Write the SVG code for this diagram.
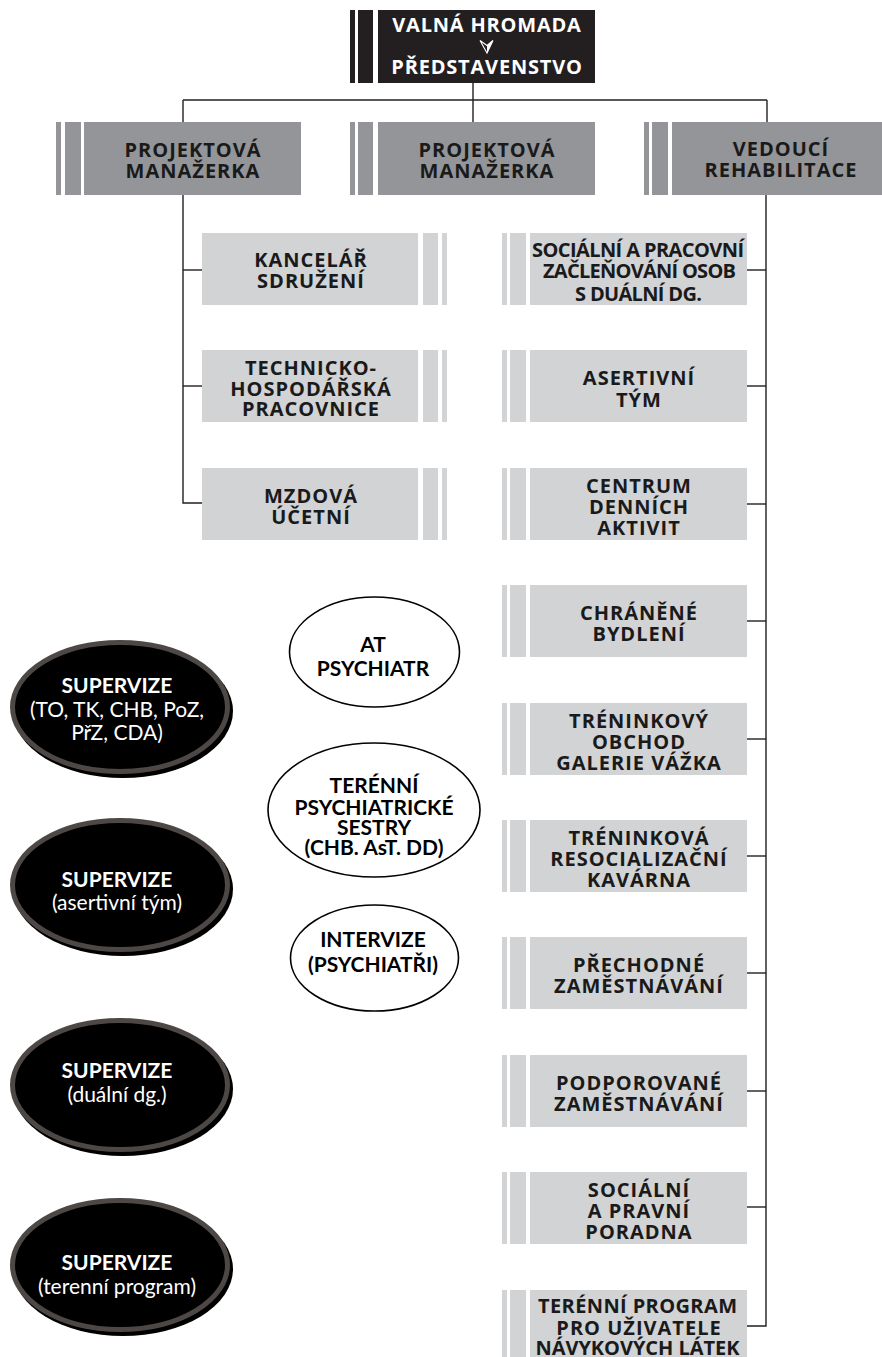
<svg xmlns="http://www.w3.org/2000/svg" width="882" height="1357" viewBox="0 0 882 1357">
<style>
.dk{fill:#939598}
.lt{fill:#d1d3d4}
.hd{fill:#231f20}
.bt{font-family:"Open Sans",sans-serif;font-weight:700;font-size:20px;letter-spacing:1px;fill:#1a1a1a;text-anchor:middle}
.wt{font-family:"Open Sans",sans-serif;font-weight:700;font-size:20px;letter-spacing:0.8px;fill:#ffffff;text-anchor:middle}
.ct{font-family:Lato,sans-serif;font-weight:700;font-size:21px;fill:#000;text-anchor:middle}
.sb{font-family:Lato,sans-serif;font-weight:700;font-size:21px;fill:#fff;text-anchor:middle}
.sr{font-family:Lato,sans-serif;font-weight:400;font-size:21px;fill:#fff;text-anchor:middle}
.cn{stroke:#231f20;stroke-width:1.4;fill:none}
.wo{fill:#fff;stroke:#000;stroke-width:1.6}
.ring{fill:#000;stroke:#4d4845;stroke-width:5}
</style>
<g id="connectors">
<line class="cn" x1="473" y1="83" x2="473" y2="122"/>
<line class="cn" x1="183" y1="100" x2="767" y2="100" stroke="#555"/>
<line class="cn" x1="183" y1="100" x2="183" y2="122"/>
<line class="cn" x1="767" y1="100" x2="767" y2="122"/>
<polyline class="cn" points="183,195 183,503 202,503"/>
<line class="cn" x1="183" y1="270" x2="202" y2="270"/>
<line class="cn" x1="183" y1="386" x2="202" y2="386"/>
<polyline class="cn" points="766,195 766,1326 747,1326"/>
<line class="cn" x1="747" y1="270" x2="766" y2="270"/>
<line class="cn" x1="747" y1="386" x2="766" y2="386"/>
<line class="cn" x1="747" y1="504" x2="766" y2="504"/>
<line class="cn" x1="747" y1="621" x2="766" y2="621"/>
<line class="cn" x1="747" y1="739" x2="766" y2="739"/>
<line class="cn" x1="747" y1="856" x2="766" y2="856"/>
<line class="cn" x1="747" y1="973" x2="766" y2="973"/>
<line class="cn" x1="747" y1="1091" x2="766" y2="1091"/>
<line class="cn" x1="747" y1="1207" x2="766" y2="1207"/>
</g>
<g id="valna-hromada">
<rect class="hd" x="350" y="10" width="5" height="73"/>
<rect class="hd" x="358" y="10" width="15" height="73"/>
<rect class="hd" x="378" y="10" width="217" height="73"/>
<text class="wt" x="487" y="32">VALNÁ HROMADA</text>
<path d="M480,40.5 L487,53 L493,40.5 L487,45.5 Z" fill="none" stroke="#fff" stroke-width="1.1"/>
<path d="M487,45.5 L493,40.5 L487,53 Z" fill="#fff"/>
<text class="wt" x="487" y="74">PŘEDSTAVENSTVO</text>
</g>
<g id="pm1">
<rect class="dk" x="56" y="122" width="5" height="73"/>
<rect class="dk" x="65" y="122" width="16" height="73"/>
<rect class="dk" x="84" y="122" width="217" height="73"/>
<text class="bt" x="193" y="157">PROJEKTOVÁ</text>
<text class="bt" x="193" y="178">MANAŽERKA</text>
</g>
<g id="pm2">
<rect class="dk" x="350" y="122" width="5" height="73"/>
<rect class="dk" x="358" y="122" width="15" height="73"/>
<rect class="dk" x="378" y="122" width="217" height="73"/>
<text class="bt" x="487" y="157">PROJEKTOVÁ</text>
<text class="bt" x="487" y="178">MANAŽERKA</text>
</g>
<g id="vedouci">
<rect class="dk" x="644" y="122" width="5" height="73"/>
<rect class="dk" x="652" y="122" width="16" height="73"/>
<rect class="dk" x="672" y="122" width="210" height="73"/>
<text class="bt" x="781" y="156">VEDOUCÍ</text>
<text class="bt" x="781" y="177">REHABILITACE</text>
</g>
<g id="kancelar">
<rect class="lt" x="202" y="233" width="216" height="72"/>
<rect class="lt" x="423" y="233" width="15" height="72"/>
<rect class="lt" x="442" y="233" width="5" height="72"/>
<text class="bt" x="311" y="267">KANCELÁŘ</text>
<text class="bt" x="311" y="288">SDRUŽENÍ</text>
</g>
<g id="technicko">
<rect class="lt" x="202" y="350" width="216" height="72"/>
<rect class="lt" x="423" y="350" width="15" height="72"/>
<rect class="lt" x="442" y="350" width="5" height="72"/>
<text class="bt" x="311" y="375">TECHNICKO-</text>
<text class="bt" x="311" y="395.5">HOSPODÁŘSKÁ</text>
<text class="bt" x="311" y="416">PRACOVNICE</text>
</g>
<g id="mzdova">
<rect class="lt" x="202" y="468" width="216" height="72"/>
<rect class="lt" x="423" y="468" width="15" height="72"/>
<rect class="lt" x="442" y="468" width="5" height="72"/>
<text class="bt" x="311" y="502.5">MZDOVÁ</text>
<text class="bt" x="311" y="523.5">ÚČETNÍ</text>
</g>
<g id="r1">
<rect class="lt" x="502" y="233" width="5" height="72"/>
<rect class="lt" x="510" y="233" width="16" height="72"/>
<rect class="lt" x="530" y="233" width="217" height="72"/>
<text class="bt" x="638.5" y="257" letter-spacing="0" textLength="213" lengthAdjust="spacing">SOCIÁLNÍ A PRACOVNÍ</text>
<text class="bt" x="640" y="278" letter-spacing="0" textLength="194" lengthAdjust="spacing">ZAČLEŇOVÁNÍ OSOB</text>
<text class="bt" x="639" y="300.5" letter-spacing="0" textLength="128" lengthAdjust="spacing">S DUÁLNÍ DG.</text>
</g>
<g id="r2">
<rect class="lt" x="502" y="350" width="5" height="72"/>
<rect class="lt" x="510" y="350" width="16" height="72"/>
<rect class="lt" x="530" y="350" width="217" height="72"/>
<text class="bt" x="639" y="385">ASERTIVNÍ</text>
<text class="bt" x="639" y="406.5">TÝM</text>
</g>
<g id="r3">
<rect class="lt" x="502" y="468" width="5" height="72"/>
<rect class="lt" x="510" y="468" width="16" height="72"/>
<rect class="lt" x="530" y="468" width="217" height="72"/>
<text class="bt" x="639" y="492.5">CENTRUM</text>
<text class="bt" x="639" y="513.5">DENNÍCH</text>
<text class="bt" x="639" y="534.5">AKTIVIT</text>
</g>
<g id="r4">
<rect class="lt" x="502" y="585" width="5" height="72"/>
<rect class="lt" x="510" y="585" width="16" height="72"/>
<rect class="lt" x="530" y="585" width="217" height="72"/>
<text class="bt" x="639" y="619.5">CHRÁNĚNÉ</text>
<text class="bt" x="639" y="641">BYDLENÍ</text>
</g>
<g id="r5">
<rect class="lt" x="502" y="703" width="5" height="72"/>
<rect class="lt" x="510" y="703" width="16" height="72"/>
<rect class="lt" x="530" y="703" width="217" height="72"/>
<text class="bt" x="639" y="727.5">TRÉNINKOVÝ</text>
<text class="bt" x="639" y="748.5">OBCHOD</text>
<text class="bt" x="639" y="769.5">GALERIE VÁŽKA</text>
</g>
<g id="r6">
<rect class="lt" x="502" y="820" width="5" height="72"/>
<rect class="lt" x="510" y="820" width="16" height="72"/>
<rect class="lt" x="530" y="820" width="217" height="72"/>
<text class="bt" x="639" y="844.5">TRÉNINKOVÁ</text>
<text class="bt" x="639" y="865.5">RESOCIALIZAČNÍ</text>
<text class="bt" x="639" y="886.5">KAVÁRNA</text>
</g>
<g id="r7">
<rect class="lt" x="502" y="937" width="5" height="72"/>
<rect class="lt" x="510" y="937" width="16" height="72"/>
<rect class="lt" x="530" y="937" width="217" height="72"/>
<text class="bt" x="639" y="971.5">PŘECHODNÉ</text>
<text class="bt" x="639" y="993">ZAMĚSTNÁVÁNÍ</text>
</g>
<g id="r8">
<rect class="lt" x="502" y="1055" width="5" height="72"/>
<rect class="lt" x="510" y="1055" width="16" height="72"/>
<rect class="lt" x="530" y="1055" width="217" height="72"/>
<text class="bt" x="639" y="1089.5">PODPOROVANÉ</text>
<text class="bt" x="639" y="1111">ZAMĚSTNÁVÁNÍ</text>
</g>
<g id="r9">
<rect class="lt" x="502" y="1172" width="5" height="72"/>
<rect class="lt" x="510" y="1172" width="16" height="72"/>
<rect class="lt" x="530" y="1172" width="217" height="72"/>
<text class="bt" x="639" y="1196.5">SOCIÁLNÍ</text>
<text class="bt" x="639" y="1217.5">A PRAVNÍ</text>
<text class="bt" x="639" y="1238.5">PORADNA</text>
</g>
<g id="r10">
<rect class="lt" x="502" y="1290" width="5" height="72"/>
<rect class="lt" x="510" y="1290" width="16" height="72"/>
<rect class="lt" x="530" y="1290" width="217" height="72"/>
<text class="bt" x="638" y="1313" letter-spacing="0" textLength="200" lengthAdjust="spacing">TERÉNNÍ PROGRAM</text>
<text class="bt" x="639" y="1334.5">PRO UŽIVATELE</text>
<text class="bt" x="638" y="1355" letter-spacing="0" textLength="205" lengthAdjust="spacing">NÁVYKOVÝCH LÁTEK</text>
</g>
<g id="at-psychiatr">
<ellipse class="wo" cx="374.5" cy="652" rx="85" ry="55"/>
<text class="ct" x="373" y="652" font-size="20">AT</text>
<text class="ct" x="373" y="676" font-size="20">PSYCHIATR</text>
</g>
<g id="terenni-sestry">
<ellipse class="wo" cx="374" cy="810" rx="106" ry="67"/>
<text class="ct" x="374" y="793">TERÉNNÍ</text>
<text class="ct" x="374" y="814.5">PSYCHIATRICKÉ</text>
<text class="ct" x="374" y="835">SESTRY</text>
<text class="ct" x="374" y="855">(CHB. AsT. DD)</text>
</g>
<g id="intervize">
<ellipse class="wo" cx="374.5" cy="958" rx="84" ry="53"/>
<text class="ct" x="373" y="947" font-size="20">INTERVIZE</text>
<text class="ct" x="373" y="972" font-size="20">(PSYCHIATŘI)</text>
</g>
<g id="supervize1">
<ellipse cx="123" cy="711" rx="110" ry="67" fill="#000"/>
<ellipse class="ring" cx="120" cy="707" rx="107.5" ry="64.5"/>
<text class="sb" x="117" y="693">SUPERVIZE</text>
<text class="sr" x="117" y="717">(TO, TK, CHB, PoZ,</text>
<text class="sr" x="117" y="740">PřZ, CDA)</text>
</g>
<g id="supervize2">
<ellipse cx="123" cy="889" rx="110" ry="67" fill="#000"/>
<ellipse class="ring" cx="120" cy="885" rx="107.5" ry="64.5"/>
<text class="sb" x="117" y="887">SUPERVIZE</text>
<text class="sr" x="117" y="910">(asertivní tým)</text>
</g>
<g id="supervize3">
<ellipse cx="123" cy="1089" rx="110" ry="67" fill="#000"/>
<ellipse class="ring" cx="120" cy="1085" rx="107.5" ry="64.5"/>
<text class="sb" x="117" y="1078">SUPERVIZE</text>
<text class="sr" x="117" y="1102">(duální dg.)</text>
</g>
<g id="supervize4">
<ellipse cx="123" cy="1269" rx="110" ry="67" fill="#000"/>
<ellipse class="ring" cx="120" cy="1265" rx="107.5" ry="64.5"/>
<text class="sb" x="117" y="1270">SUPERVIZE</text>
<text class="sr" x="117" y="1294">(terenní program)</text>
</g>
</svg>
